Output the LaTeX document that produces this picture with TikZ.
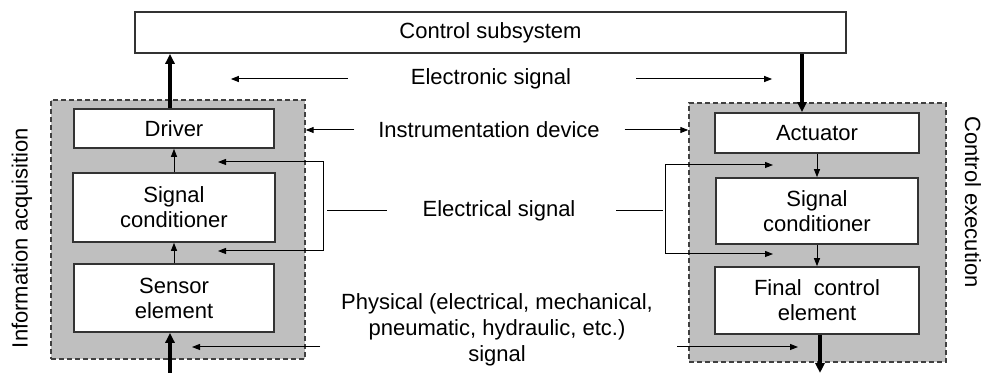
\documentclass[tikz,border=0pt]{standalone}
\usepackage{fontspec}
\setmainfont{Liberation Sans}
\usetikzlibrary{arrows.meta}

\begin{document}
\begin{tikzpicture}[x=0.5pt, y=-0.5pt,
    every node/.style={font=\fontsize{11}{12.5}\selectfont},
    block/.style={draw=black!80, line width=0.8pt, fill=white, align=center, inner sep=0pt},
    group/.style={draw=black!75, fill=gray!50, dash pattern=on 2.5pt off 1.5pt, line width=0.7pt, inner sep=0pt},
    link/.style={line width=0.5pt, -{Triangle[length=4pt, width=3pt]}},
    bus/.style={line width=1.7pt, -{Triangle[length=5pt, width=4.5pt]}},
    wire/.style={line width=0.5pt}]
    \useasboundingbox (0,0) rectangle (982,373);

    % the two device groups
    \node[group, minimum width=127pt, minimum height=129.5pt] at (178,229.5) (acq) {};
    \node[group, minimum width=128.5pt, minimum height=129.5pt] at (817.5,232.5) (exe) {};

    \node[block, minimum width=355.5pt, minimum height=20.5pt] at (490.5,32.5) (ctrl) {Control subsystem};

    \node[block, minimum width=100pt, minimum height=19.5pt] at (174,128.5) (drv) {Driver};
    \node[block, minimum width=101pt, minimum height=34.5pt] at (174,207.5) (condL) {Signal\\conditioner};
    \node[block, minimum width=100pt, minimum height=34pt] at (174,298) (sens) {Sensor\\element};

    \node[block, minimum width=102pt, minimum height=20pt] at (817,133) (act) {Actuator};
    \node[block, minimum width=101pt, minimum height=33pt] at (817,211) (condR) {Signal\\conditioner};
    \node[block, minimum width=102pt, minimum height=33.5pt] at (817,300.5) (fin) {Final\ \ control\\element};

    \node at (491,79) (etext) {Electronic signal};
    \node at (489,130) (itext) {Instrumentation device};
    \node at (499,211) (elec) {Electrical signal};
    \node[align=center, font=\fontsize{11}{13}\selectfont] at (497,330) (ptext) {Physical (electrical, mechanical,\\pneumatic, hydraulic, etc.)\\signal};

    \node[rotate=90] at (22,238) (acqlbl) {Information acquisition};
    \node[rotate=-90] at (973,202) (exelbl) {Control execution};

    \coordinate (drvout) at (170,0);
    \coordinate (actin) at (802,0);
    \coordinate (physin) at (170,373);
    \coordinate (physout) at (820,373);
    \coordinate (acqsig) at (218,162);
    \coordinate (acqsen) at (218,251);
    \coordinate (exesig) at (773,165);
    \coordinate (exefin) at (773,254);
    \coordinate (physL) at (320,347);
    \coordinate (physR) at (677,347);

    % thick signal paths
    \draw[bus] (drv.north -| drvout) -- (ctrl.south -| drvout);
    \draw[bus] (ctrl.south -| actin) -- (act.north -| actin);
    \draw[bus] (physin) -- (physin |- sens.south);
    \draw[bus] (physout |- fin.south) -- (physout);

    % inside the groups
    \draw[link] (sens.north) -- (condL.south);
    \draw[link] (condL.north) -- (drv.south);
    \draw[link] (act.south) -- (condR.north);
    \draw[link] (condR.south) -- (fin.north);

    % labels and their pointers
    \draw[link] (etext.west) ++(-56,0) -- ++(-117,0);
    \draw[link] (etext.east) ++(58,0) -- ++(136,0);
    \draw[link] (itext.west) ++(-17,0) -- (itext.west -| acq.east);
    \draw[link] (itext.east) ++(18,0) -- (itext.east -| exe.west);

    \draw[wire, {Triangle[length=4pt, width=3pt]}-{Triangle[length=4pt, width=3pt]}] (acqsig) -- ++(105,0) |- (acqsen);
    \draw[wire] (elec.west) ++(-29,0) -- ++(-60,0);
    \draw[wire, {Triangle[length=4pt, width=3pt]}-{Triangle[length=4pt, width=3pt]}] (exesig) -- ++(-108,0) |- (exefin);
    \draw[wire] (elec.east) ++(34,0) -- ++(47,0);

    \draw[link] (physL) -- ++(-128,0);
    \draw[link] (physR) -- ++(121,0);
\end{tikzpicture}
\end{document}
